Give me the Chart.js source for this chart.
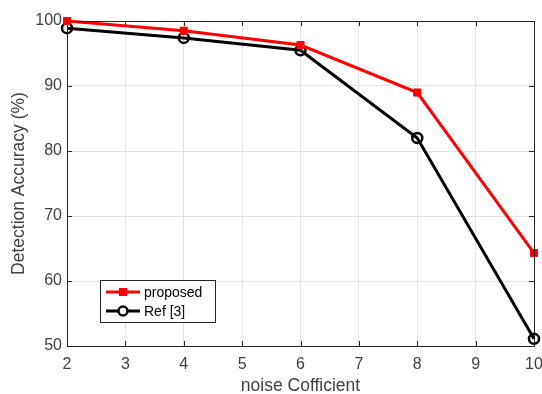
<!DOCTYPE html>
<html>
<head>
<meta charset="utf-8">
<script src="https://cdn.jsdelivr.net/npm/chart.js@4/dist/chart.umd.min.js"></script>
<style>
    html, body { margin: 0; padding: 0; background: #fff; }
    #wrap { width: 542px; height: 394px; }
</style>
</head>
<body>
<div id="wrap"><canvas id="chart" width="542" height="394"></canvas></div>
<script>
const noiseLevels = [2, 4, 6, 8, 10];
const proposedAcc = [100, 98.5, 96.3, 89, 64.3];
const ref3Acc = [98.9, 97.4, 95.5, 82, 51.1];
const xTicks = [2, 3, 4, 5, 6, 7, 8, 9, 10];
const yTicks = [50, 60, 70, 80, 90, 100];

const axisColor = '#262626';
const textColor = '#404040';
const fontFamily = '"Liberation Sans", Arial, sans-serif';

// box around the axes plus inward ticks, matlab style
const boxPlugin = {
    id: 'box',
    afterDatasetsDraw(chart) {
        const { ctx, chartArea: a, scales } = chart;
        ctx.save();
        ctx.strokeStyle = axisColor;
        ctx.lineWidth = 1;
        ctx.beginPath();
        scales.x.ticks.forEach((t) => {
            const px = Math.round(scales.x.getPixelForValue(t.value)) + 0.5;
            ctx.moveTo(px, a.bottom); ctx.lineTo(px, a.bottom - 5);
            ctx.moveTo(px, a.top); ctx.lineTo(px, a.top + 5);
        });
        scales.y.ticks.forEach((t) => {
            const py = Math.round(scales.y.getPixelForValue(t.value)) + 0.5;
            ctx.moveTo(a.left, py); ctx.lineTo(a.left + 5, py);
            ctx.moveTo(a.right, py); ctx.lineTo(a.right - 5, py);
        });
        ctx.stroke();
        ctx.strokeRect(Math.round(a.left) + 0.5, Math.round(a.top) + 0.5,
            Math.round(a.right - a.left), Math.round(a.bottom - a.top));
        ctx.restore();
    },
    afterDraw(chart) {
        // legend box in lower left of the axes
        const { ctx, chartArea: a } = chart;
        const x0 = a.left + 33, y0 = a.top + 259, w = 115, h = 42;
        ctx.save();
        ctx.fillStyle = '#fff';
        ctx.fillRect(x0, y0, w, h);
        ctx.strokeStyle = axisColor;
        ctx.lineWidth = 1;
        ctx.strokeRect(x0 + 0.5, y0 + 0.5, w, h);
        chart.data.datasets.forEach((ds, i) => {
            const cy = y0 + 12 + i * 19;
            ctx.strokeStyle = ds.borderColor;
            ctx.lineWidth = 3;
            ctx.beginPath();
            ctx.moveTo(x0 + 6, cy); ctx.lineTo(x0 + 40, cy);
            ctx.stroke();
            if (ds.pointStyle === 'rect') {
                ctx.fillStyle = ds.pointBackgroundColor;
                ctx.fillRect(x0 + 23 - 4, cy - 4, 8, 8);
            } else {
                ctx.fillStyle = '#fff';
                ctx.lineWidth = 2.5;
                ctx.beginPath();
                ctx.arc(x0 + 23, cy, 4.5, 0, Math.PI * 2);
                ctx.fill();
                ctx.stroke();
            }
            ctx.fillStyle = '#000';
            ctx.font = '14px ' + fontFamily;
            ctx.textBaseline = 'middle';
            ctx.fillText(ds.label, x0 + 44, cy + 1);
        });
        ctx.restore();
    },
};

new Chart(document.getElementById('chart'), {
    type: 'line',
    data: {
        datasets: [
            {
                label: 'proposed',
                data: noiseLevels.map((x, i) => ({ x: x, y: proposedAcc[i] })),
                borderColor: '#ff0000',
                backgroundColor: '#ff0000',
                pointBackgroundColor: '#ff0000',
                pointBorderColor: '#ff0000',
                pointStyle: 'rect',
                pointRadius: 5,
                pointBorderWidth: 1,
                borderWidth: 3,
                tension: 0,
            },
            {
                label: 'Ref [3]',
                data: noiseLevels.map((x, i) => ({ x: x, y: ref3Acc[i] })),
                borderColor: '#000000',
                backgroundColor: '#ffffff',
                pointBackgroundColor: 'rgba(0,0,0,0)',
                pointBorderColor: '#000000',
                pointStyle: 'circle',
                pointRadius: 5,
                pointBorderWidth: 2.5,
                borderWidth: 3,
                tension: 0,
            },
        ],
    },
    options: {
        responsive: false,
        animation: false,
        clip: false,
        layout: { padding: { top: 21, right: 8, left: 0, bottom: 0 } },
        plugins: {
            legend: { display: false },
            tooltip: { enabled: false },
        },
        scales: {
            x: {
                type: 'linear',
                min: 2,
                max: 10,
                afterBuildTicks: (s) => { s.ticks = xTicks.map((v) => ({ value: v })); },
                afterFit: (s) => { s.height = 48; s.paddingRight = 0; s.paddingLeft = 0; },
                grid: { color: '#e3e3e3', tickLength: 0, drawTicks: false },
                border: { display: false },
                ticks: { color: textColor, padding: 9, font: { family: fontFamily, size: 16 } },
                title: {
                    display: true,
                    text: 'noise Cofficient',
                    color: textColor,
                    font: { family: fontFamily, size: 17.5, lineHeight: 1 },
                    padding: { top: 0, bottom: -1 },
                },
            },
            y: {
                min: 50,
                max: 100,
                afterBuildTicks: (s) => { s.ticks = yTicks.map((v) => ({ value: v })); },
                afterFit: (s) => { s.width = 67; },
                grid: { color: '#e3e3e3', tickLength: 0, drawTicks: false },
                border: { display: false },
                ticks: { color: textColor, padding: 5, font: { family: fontFamily, size: 16 } },
                title: {
                    display: true,
                    text: 'Detection Accuracy (%)',
                    color: textColor,
                    font: { family: fontFamily, size: 17.5, lineHeight: 1 },
                    padding: { top: 10, bottom: 0 },
                },
            },
        },
    },
    plugins: [boxPlugin],
});
</script>
</body>
</html>
